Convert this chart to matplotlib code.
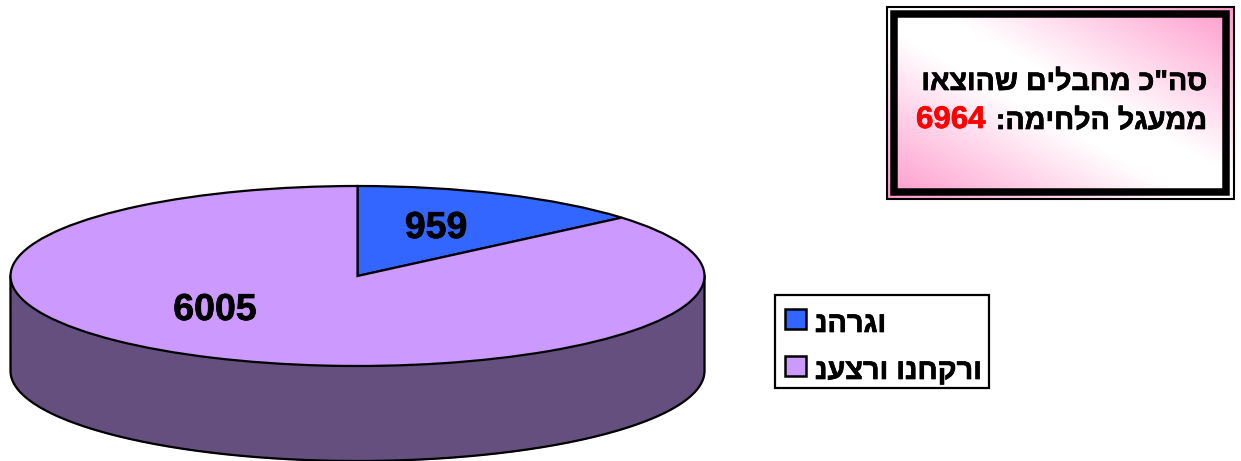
import numpy as np
import matplotlib
matplotlib.use("Agg")
import matplotlib.pyplot as plt
import matplotlib.patheffects as pe
from matplotlib.patches import Rectangle

plt.rcParams['font.family'] = ['Liberation Sans', 'DejaVu Sans']
plt.rcParams['font.weight'] = 'bold'

# data
values = [959, 6005]
# legend text in the source is stored visually, so it comes out left to right as is
labels = ['נהרגו', 'נעצרו ונחקרו']
colors = ['#3366FF', '#CC99FF']
side_color = '#654F7F'
total = 6964
box_line1 = 'סה"כ מחבלים שהוצאו'
box_line2 = 'ממעגל הלחימה:'

W, H = 1241, 461
fig = plt.figure(figsize=(W / 100, H / 100), dpi=100)

# pie axes: x spans the ellipse, one y unit is 90 px
cx0, cx1, cy, ry, depth = 10.5, 704.5, 276, 90, 95
pie_ax = fig.add_axes([cx0 / W, 0, (cx1 - cx0) / W, (H - (cy - ry)) / H])

t = np.linspace(np.pi, 2 * np.pi, 200)
d = depth / ry
xs = np.cos(t)
ys = np.sin(t)
pie_ax.fill(np.r_[xs, xs[::-1]], np.r_[ys - d, ys[::-1]], color=side_color, zorder=1, clip_on=False)
pie_ax.plot(np.r_[-1, xs, 1], np.r_[0, ys - d, 0], color='black', lw=1.6, zorder=2, clip_on=False)

wedges, _ = pie_ax.pie(values, colors=colors, startangle=90, counterclock=False,
                       wedgeprops={'edgecolor': 'black', 'linewidth': 1.6, 'zorder': 3})
for w in wedges:
    w.set_clip_on(False)
pie_ax.set_aspect('auto')
pie_ax.set_xlim(-1, 1)
pie_ax.set_ylim(-(H - cy) / ry, 1)

# whole figure axes in pixel coords for the box, legend and labels, on top of the pie
ax = fig.add_axes([0, 0, 1, 1])
ax.axis('off')
ax.set_zorder(5)

# a thin stroke brings the text up to the weight of the original
heavy = [pe.withStroke(linewidth=0.5, foreground='black')]

# value labels
ax.text(436, 228, str(values[0]), fontsize=27, ha='center', va='center', zorder=5, path_effects=heavy)
ax.text(215, 310, str(values[1]), fontsize=27, ha='center', va='center', zorder=5, path_effects=heavy)

# text box: gradient under everything, outer line, thick black frame
gx, gy = np.meshgrid(np.linspace(0, 1, 347), np.linspace(0, 1, 192))
g = np.clip((np.abs(gx - gy) - 0.12) / 0.88, 0, 1)
img = np.ones(g.shape + (3,))
pink = np.array([1.0, 0.6, 0.8])
for i in range(3):
    img[..., i] = 1 + (pink[i] - 1) * g
ax.imshow(img, extent=(887, 1234, 199, 7), aspect='auto', zorder=2, interpolation='bilinear')
ax.add_patch(Rectangle((887, 7), 347, 192, fc='none', ec='black', lw=1.5, zorder=3))
ax.add_patch(Rectangle((893.75, 13.75), 332.5, 178.5, fc='none', ec='black', lw=5.4, zorder=3))

# matplotlib has no bidi, so the properly right-to-left lines are reversed for drawing
ax.text(1207, 82, box_line1[::-1], fontsize=20.6, ha='right', va='center', zorder=5, path_effects=heavy)
ax.text(1207, 121, box_line2[::-1], fontsize=20.6, ha='right', va='center', zorder=5, path_effects=heavy)
ax.text(916, 120, str(total), fontsize=22.5, color='#FF0000', ha='left', va='center', zorder=5,
        path_effects=[pe.withStroke(linewidth=0.5, foreground='#FF0000')])

# legend
ax.add_patch(Rectangle((775, 295), 214, 93, fc='white', ec='black', lw=1.6, zorder=2))
for lab, col, y in zip(labels, colors, [319, 366]):
    ax.add_patch(Rectangle((785, y - 10), 21, 20, fc=col, ec='black', lw=1.8, zorder=3))
    ax.text(815, y + 5, lab, fontsize=20.8, ha='left', va='center', zorder=5, path_effects=heavy)

ax.set_xlim(0, W)
ax.set_ylim(H, 0)

fig.savefig('out.png', dpi=100)
